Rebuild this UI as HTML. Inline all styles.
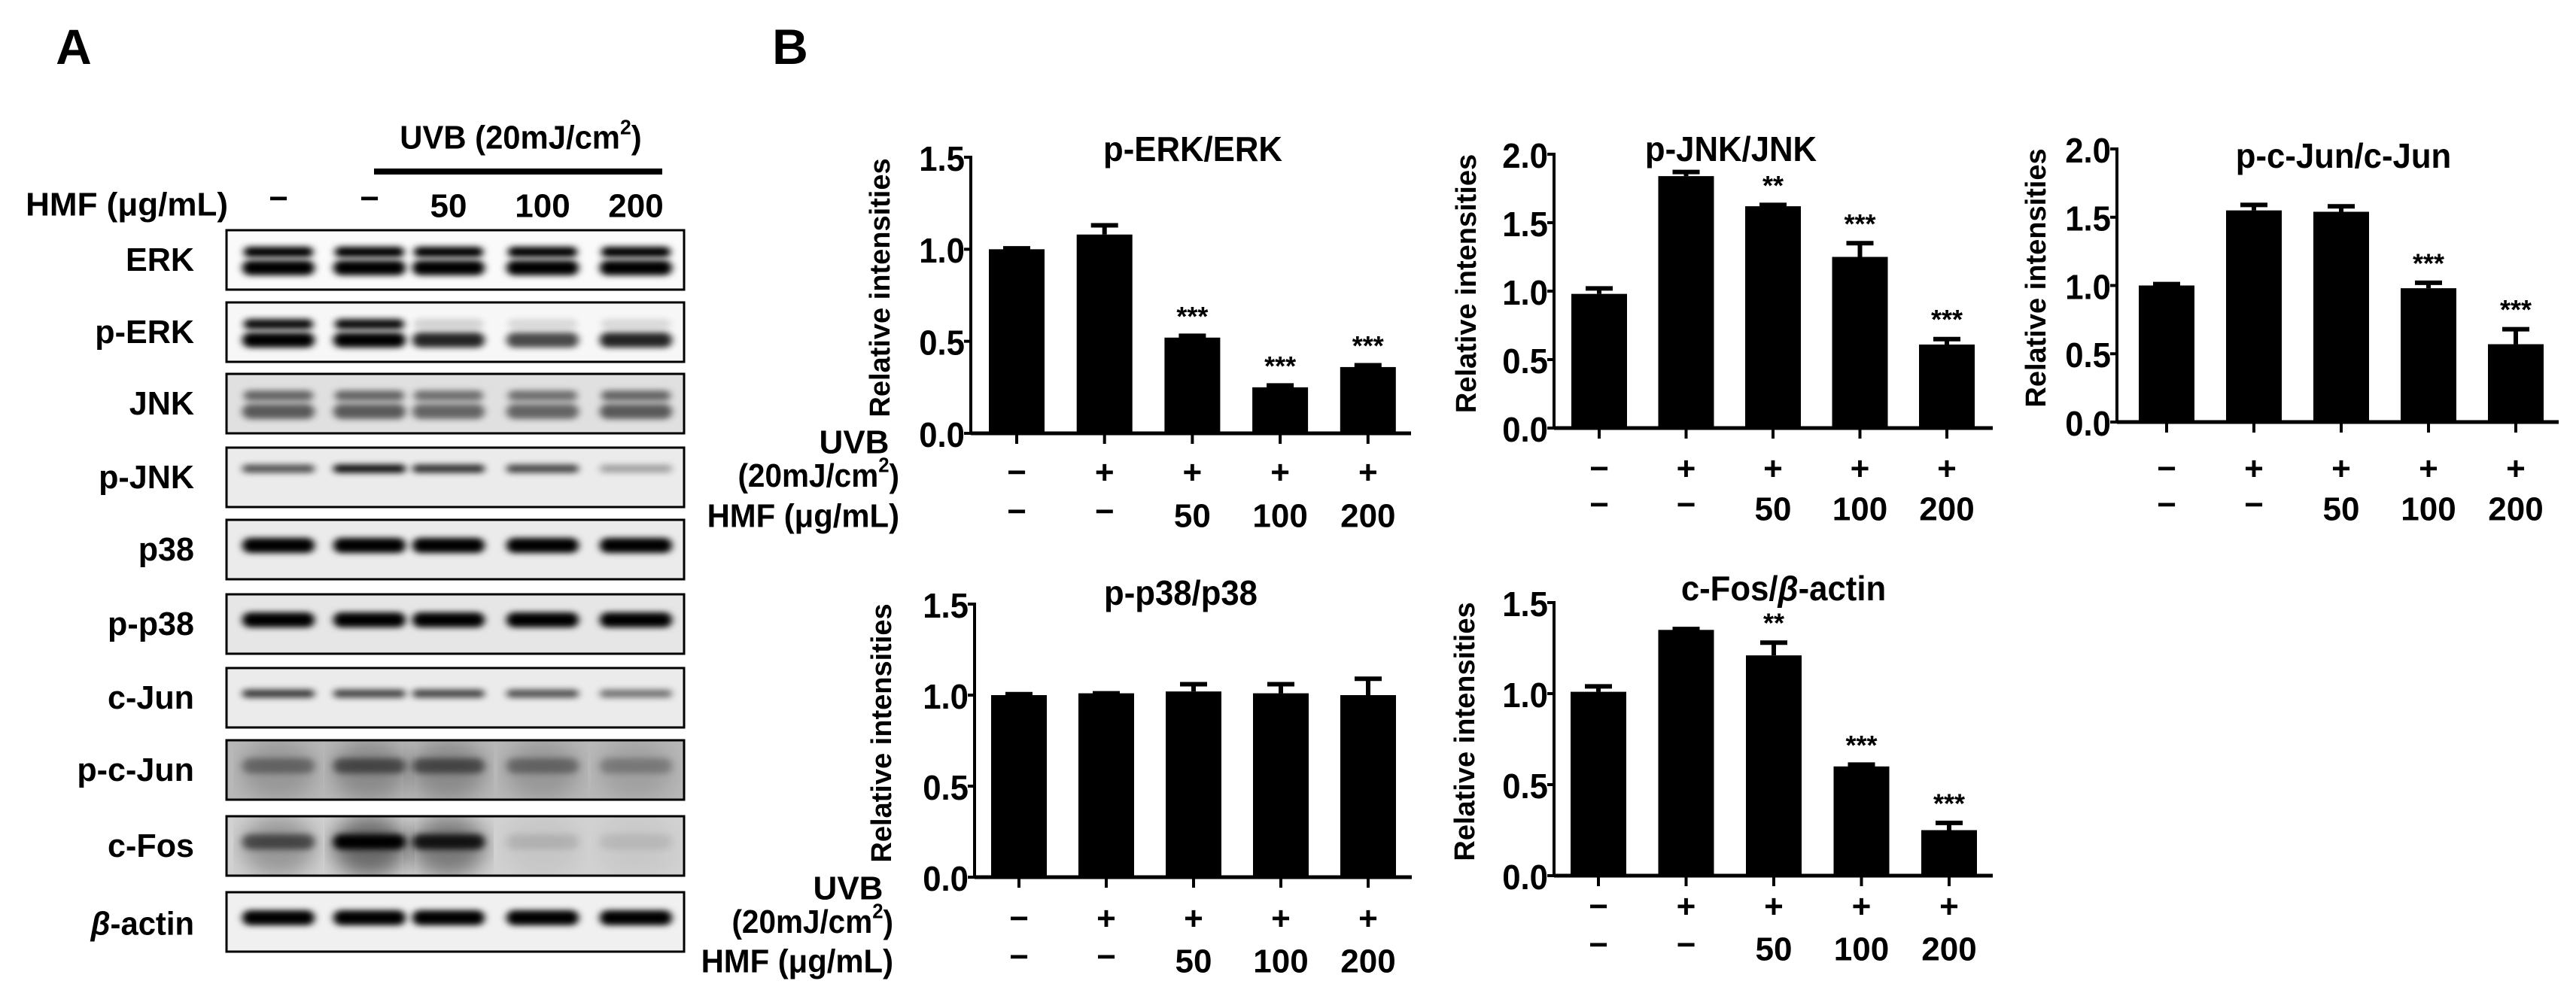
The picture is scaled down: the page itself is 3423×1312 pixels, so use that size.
<!DOCTYPE html>
<html><head><meta charset="utf-8">
<style>
html,body{margin:0;padding:0;background:#fff;}
svg{display:block;}
text{font-family:"Liberation Sans",Arial,sans-serif;font-weight:bold;fill:#000;}
</style></head>
<body>
<svg id="fig" width="3423" height="1312" viewBox="0 0 3423 1312" xmlns="http://www.w3.org/2000/svg">
<defs>
<filter id="blur" x="-20%" y="-100%" width="140%" height="300%"><feGaussianBlur stdDeviation="5 4"/></filter>
<filter id="blurBg" x="-10%" y="-50%" width="120%" height="200%"><feGaussianBlur stdDeviation="14"/></filter>
<clipPath id="blotClip"><rect x="0" y="0" width="608" height="79"/></clipPath>
</defs>
<g id="panelA"></g>
<g id="panelB"></g>
</svg>
<script>
// ---------- Shared category data ----------
const uvbSigns = ['−', '+', '+', '+', '+'];
const hmfLabels = ['−', '−', '50', '100', '200'];
const blotHmfLabels = ['−', '−', '50', '100', '200'];

// ---------- Chart data ----------
const perkValues = [1.00, 1.08, 0.52, 0.25, 0.36];
const perkErrors = [0.005, 0.05, 0.01, 0.01, 0.01];
const perkStars = ['', '', '***', '***', '***'];

const pjnkValues = [0.98, 1.84, 1.62, 1.25, 0.61];
const pjnkErrors = [0.04, 0.03, 0.01, 0.10, 0.04];
const pjnkStars = ['', '', '**', '***', '***'];

const pcjunValues = [1.00, 1.55, 1.54, 0.98, 0.57];
const pcjunErrors = [0.01, 0.04, 0.04, 0.04, 0.11];
const pcjunStars = ['', '', '', '***', '***'];

const pp38Values = [1.00, 1.01, 1.02, 1.01, 1.00];
const pp38Errors = [0.005, 0.0, 0.04, 0.05, 0.09];
const pp38Stars = ['', '', '', '', ''];

const cfosValues = [1.01, 1.35, 1.21, 0.60, 0.25];
const cfosErrors = [0.03, 0.005, 0.07, 0.01, 0.04];
const cfosStars = ['', '', '**', '***', '***'];

const ticks15 = ['0.0', '0.5', '1.0', '1.5'];
const ticks20 = ['0.0', '0.5', '1.0', '1.5', '2.0'];

// ---------- Blot band intensities (0..1) per lane ----------
const blotNames = ['ERK', 'p-ERK', 'JNK', 'p-JNK', 'p38', 'p-p38', 'c-Jun', 'p-c-Jun', 'c-Fos', 'β-actin'];
const blotUpper = [
  [1, 1, 1, 1, 1],
  [0.95, 0.95, 0.15, 0.12, 0.12],
  [0.55, 0.55, 0.5, 0.5, 0.55],
  [0, 0, 0, 0, 0],
  [0, 0, 0, 0, 0],
  [0, 0, 0, 0, 0],
  [0, 0, 0, 0, 0],
  [0, 0, 0, 0, 0],
  [0, 0, 0, 0, 0],
  [0, 0, 0, 0, 0]
];
const blotLower = [
  [1, 1, 1, 1, 1],
  [1, 1, 0.85, 0.7, 0.85],
  [0.6, 0.6, 0.55, 0.55, 0.6],
  [0.65, 0.95, 0.8, 0.7, 0.3],
  [1, 1, 1, 1, 1],
  [1, 1, 1, 1, 1],
  [0.75, 0.7, 0.7, 0.65, 0.5],
  [0.35, 0.5, 0.5, 0.35, 0.25],
  [0.55, 1, 0.85, 0.1, 0.08],
  [1, 1, 1, 1, 1]
];
const blotBg = [0.02, 0.03, 0.12, 0.08, 0.08, 0.1, 0.08, 0.28, 0.18, 0.06];

const NS = 'http://www.w3.org/2000/svg';
function mk(tag, attrs, parent) {
  const e = document.createElementNS(NS, tag);
  for (const k in attrs) e.setAttribute(k, attrs[k]);
  parent.appendChild(e);
  return e;
}
function ctext(parent, str, x, y, size, anchor, sx) {
  const t = mk('text', {
    transform: 'translate(' + x + ',' + y + ') scale(' + (sx || 0.95) + ',1)',
    'font-size': size, 'text-anchor': anchor || 'middle', 'dominant-baseline': 'central'
  }, parent);
  t.textContent = str;
  return t;
}

// ---------- Panel A ----------
const A = document.getElementById('panelA');
let t = ctext(A, 'A', 98, 62, 66, 'middle', 1);


const lanes = [370, 491, 596, 721, 845];
t = mk('text', {'font-size': 44, 'text-anchor': 'middle', 'dominant-baseline': 'central', transform: 'translate(692,183) scale(0.95,1)'}, A);
t.innerHTML = 'UVB (20mJ/cm<tspan dy="-15" font-size="28">2</tspan><tspan dy="15">)</tspan>';


const bar = mk('rect', {x: 497, y: 224, width: 383, height: 8, fill: '#000'}, A);


t = ctext(A, 'HMF (μg/mL)', 303, 272, 44, 'end', 1);


blotHmfLabels.forEach((lb, i) => {
  const tt = ctext(A, lb, lanes[i], lb === '−' ? 264 : 274, 44, 'middle', 1);
  
  
});
const blotTops = [306, 402, 497, 595, 691, 790, 888, 984, 1085, 1186];
blotNames.forEach((name, r) => {
  const y0 = blotTops[r];
  const g = mk('g', {transform: 'translate(301,' + y0 + ')'}, A);
  
  
  const inner = mk('g', {'clip-path': 'url(#blotClip)'}, g);
  const bgv = Math.round(255 * (1 - blotBg[r]));
  mk('rect', {x: 0, y: 0, width: 608, height: 79, fill: 'rgb(' + bgv + ',' + bgv + ',' + bgv + ')'}, inner);
  lanes.forEach((lx, i) => {
    const cx = lx - 301;
    const up = blotUpper[r][i], lo = blotLower[r][i];
    if (r === 7 || r === 8) {
      mk('ellipse', {cx: cx, cy: 40, rx: 50, ry: 40, fill: '#000', opacity: lo * 0.5, filter: 'url(#blurBg)'}, inner);
    }
    if (up > 0) mk('rect', {x: cx - 46, y: 22, width: 92, height: 14, rx: 7, fill: '#000', opacity: up, filter: 'url(#blur)'}, inner);
    if (lo > 0) {
      const yy = (r === 0 || r === 1 || r === 2) ? 44 : (r === 3 ? 28 : 34);
      const hh = (r === 6 || r === 3) ? 11 : 20;
      mk('rect', {x: cx - 48, y: yy - hh / 2 + (r <= 2 ? 6 : 0), width: 96, height: hh, rx: hh / 2, fill: '#000', opacity: lo, filter: 'url(#blur)'}, inner);
    }
  });
  mk('rect', {x: 0, y: 0, width: 608, height: 79, fill: 'none', stroke: '#000', 'stroke-width': 3}, g);
  let lbl;
  if (name === 'β-actin') {
    lbl = mk('text', {'font-size': 44, 'text-anchor': 'end', 'dominant-baseline': 'central', transform: 'translate(258,' + (y0 + 42) + ') scale(0.95,1)'}, A);
    lbl.innerHTML = '<tspan font-style="italic">β</tspan>-actin';
  } else {
    lbl = ctext(A, name, 258, y0 + 40, 44, 'end', 0.98);
  }
  
  
});

// ---------- Panel B ----------
const B = document.getElementById('panelB');
t = ctext(B, 'B', 1050, 62, 66, 'middle', 1);



function drawChart(cfg, values, errors, stars, tickLabels) {
  const g = mk('g', {}, B);
  
  
  const yScale = v => cfg.y0 - (v / cfg.max) * (cfg.y0 - cfg.yTop);
  const xScale = i => cfg.c0 + i * cfg.step;
  values.forEach((v, i) => {
    const x = xScale(i), top = yScale(v), et = yScale(v + errors[i]);
    const r = mk('rect', {x: x - 37, y: top, width: 74, height: cfg.y0 - top, fill: '#000'}, g);
    
    
    const eg = mk('g', {stroke: '#000', 'stroke-width': 6}, g);
    
    
    mk('line', {x1: x, y1: top, x2: x, y2: et}, eg);
    mk('line', {x1: x - 18, y1: et, x2: x + 18, y2: et}, eg);
    if (stars[i]) {
      const s = mk('text', {x: x, y: et - 26, 'font-size': 36, 'text-anchor': 'middle', 'dominant-baseline': 'central', 'font-weight': 'normal'}, g);
      s.textContent = stars[i];
      
      
    }
    const tk = mk('line', {x1: x, y1: cfg.y0, x2: x, y2: cfg.y0 + 14, stroke: '#000', 'stroke-width': 4}, g);
    
    
    const u = ctext(g, uvbSigns[i], x, cfg.signY, 44, 'middle', 1);
    
    
    const h = ctext(g, hmfLabels[i], x, cfg.hmfY + (hmfLabels[i] === '−' ? -6 : 0), 44, 'middle', 1);
    
    
  });
  const ya = mk('line', {x1: cfg.ax, y1: cfg.yTop - 2, x2: cfg.ax, y2: cfg.y0 + 2, stroke: '#000', 'stroke-width': 4}, g);
  
  
  const xa = mk('line', {x1: cfg.ax, y1: cfg.y0, x2: cfg.xEnd, y2: cfg.y0, stroke: '#000', 'stroke-width': 5}, g);
  
  
  tickLabels.forEach((lb) => {
    const v = parseFloat(lb), y = yScale(v);
    mk('line', {x1: cfg.ax - 9, y1: y, x2: cfg.ax, y2: y, stroke: '#000', 'stroke-width': 4}, g);
    const tl = ctext(g, lb, cfg.ax - 8, y + 2, 46, 'end', 0.95);
    
    
  });
  const yt = mk('text', {'font-size': 38, 'text-anchor': 'middle', 'dominant-baseline': 'central', transform: 'translate(' + cfg.ylx + ',' + ((cfg.yTop + cfg.y0) / 2 - 10) + ') rotate(-90)'}, g);
  yt.textContent = 'Relative intensities';
  
  
  let tt;
  if (cfg.title === 'c-Fos/β-actin') {
    tt = mk('text', {'font-size': 46, 'text-anchor': 'middle', 'dominant-baseline': 'central', transform: 'translate(' + cfg.tx + ',' + cfg.ty + ') scale(0.95,1)'}, g);
    tt.innerHTML = 'c-Fos/<tspan font-style="italic">β</tspan>-actin';
  } else {
    tt = ctext(g, cfg.title, cfg.tx, cfg.ty, 46, 'middle', 0.95);
  }
  
  
  if (cfg.rowLabels) {
    const l1 = ctext(g, 'UVB', cfg.rowLabelX - 60, cfg.signY - 40, 44, 'middle', 1);
    
    
    const l2 = mk('text', {'font-size': 44, 'text-anchor': 'end', 'dominant-baseline': 'central', transform: 'translate(' + cfg.rowLabelX + ',' + (cfg.signY + 4) + ') scale(0.92,1)'}, g);
    l2.innerHTML = '(20mJ/cm<tspan dy="-14" font-size="28">2</tspan><tspan dy="14">)</tspan>';
    
    
    const l3 = ctext(g, 'HMF (μg/mL)', cfg.rowLabelX, cfg.hmfY, 44, 'end', 0.95);
    
    
  }
}

drawChart({name: 'chart-p-erk-erk', title: 'p-ERK/ERK', ax: 1290, xEnd: 1875, yTop: 209, y0: 576, max: 1.5, c0: 1351, step: 116.7, tx: 1585, ty: 198, ylx: 1170, signY: 628, hmfY: 686, rowLabels: true, rowLabelX: 1195},
  perkValues, perkErrors, perkStars, ticks15);
drawChart({name: 'chart-p-jnk-jnk', title: 'p-JNK/JNK', ax: 2065, xEnd: 2648, yTop: 205, y0: 569, max: 2.0, c0: 2125, step: 115.5, tx: 2300, ty: 198, ylx: 1949, signY: 623, hmfY: 677},
  pjnkValues, pjnkErrors, pjnkStars, ticks20);
drawChart({name: 'chart-p-c-jun-c-jun', title: 'p-c-Jun/c-Jun', ax: 2813, xEnd: 3400, yTop: 198, y0: 561, max: 2.0, c0: 2879, step: 116, tx: 3114, ty: 207, ylx: 2706, signY: 623, hmfY: 677},
  pcjunValues, pcjunErrors, pcjunStars, ticks20);
drawChart({name: 'chart-p-p38-p38', title: 'p-p38/p38', ax: 1295, xEnd: 1876, yTop: 803, y0: 1166, max: 1.5, c0: 1354, step: 116, tx: 1569, ty: 788, ylx: 1172, signY: 1221, hmfY: 1278, rowLabels: true, rowLabelX: 1187},
  pp38Values, pp38Errors, pp38Stars, ticks15);
drawChart({name: 'chart-c-fos-beta-actin', title: 'c-Fos/β-actin', ax: 2065, xEnd: 2648, yTop: 801, y0: 1164, max: 1.5, c0: 2124, step: 116.5, tx: 2370, ty: 782, ylx: 1947, signY: 1205, hmfY: 1262},
  cfosValues, cfosErrors, cfosStars, ticks15);
</script>
</body></html>
